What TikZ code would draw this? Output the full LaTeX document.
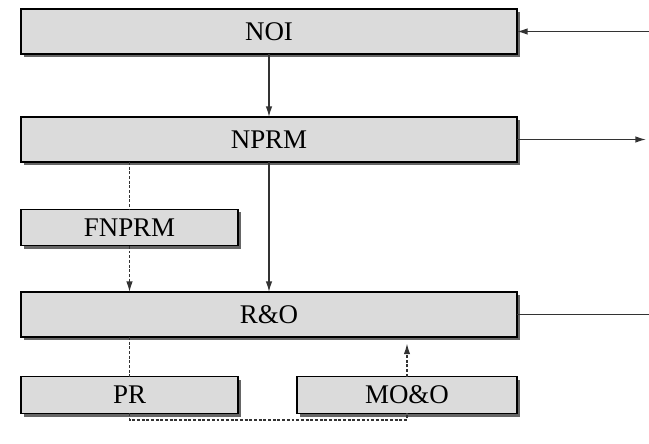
\documentclass[tikz,border=0pt]{standalone}
\usepackage{fontspec}
\setmainfont{Liberation Serif}
\usetikzlibrary{arrows.meta,shadows}

\begin{document}
\begin{tikzpicture}[>={Latex[length=9pt,width=5.5pt]}]
\useasboundingbox (0,0) rectangle (19.47,-13.32);
\tikzstyle{every node}=[draw,shape=rectangle,line width=0.9pt,fill=black!14,inner sep=0pt,outer sep=0pt,
  font=\fontsize{23}{27}\selectfont,
  drop shadow={shadow xshift=0.1cm,shadow yshift=-0.1cm,fill=black!60,opacity=1}];
\tikzstyle{wide}=[minimum width=14.88cm,minimum height=1.35cm];
\tikzstyle{half}=[minimum width=6.51cm,minimum height=1.1cm];
\node[wide] (noi) at (8.07,-0.945) {NOI};
\node[wide] (nprm) at (8.07,-4.185) {NPRM};
\node[half] (fnprm) at (3.885,-6.825) {FNPRM};
\node[wide] (ro) at (8.07,-9.435) {R\&O};
\node[half] (pr) at (3.885,-11.85) {PR};
\node[half,minimum width=6.6cm] (mo) at (12.21,-11.85) {MO\&O};
\tikzstyle{every node}=[];
\tikzstyle{link}=[line width=1.1pt,black!80];
\tikzstyle{maybe}=[link,line width=1pt,dash pattern=on 2.5pt off 1.5pt];
\coordinate (in) at (19.47,-0.945);
\coordinate (out) at (19.38,-4.185);
\coordinate (end) at (19.47,-9.435);
\draw [link,->] (in) -- (noi);
\draw [link,->] (nprm) -- (out);
\draw [link] (ro) -- (end);
\draw [link,->] (noi) -- (nprm);
\draw [link,->] (nprm) -- (ro);
\draw [maybe] (nprm.south -| fnprm) -- (fnprm);
\draw [maybe,->] (fnprm) -- (ro.north -| fnprm);
\draw [maybe] (ro.south -| pr) -- (pr);
\draw [maybe] (pr) -- ++(0,-0.75) -| (mo);
\draw [maybe,->,shorten >=0.2cm] (mo) -- (ro.south -| mo);
\end{tikzpicture}
\end{document}
